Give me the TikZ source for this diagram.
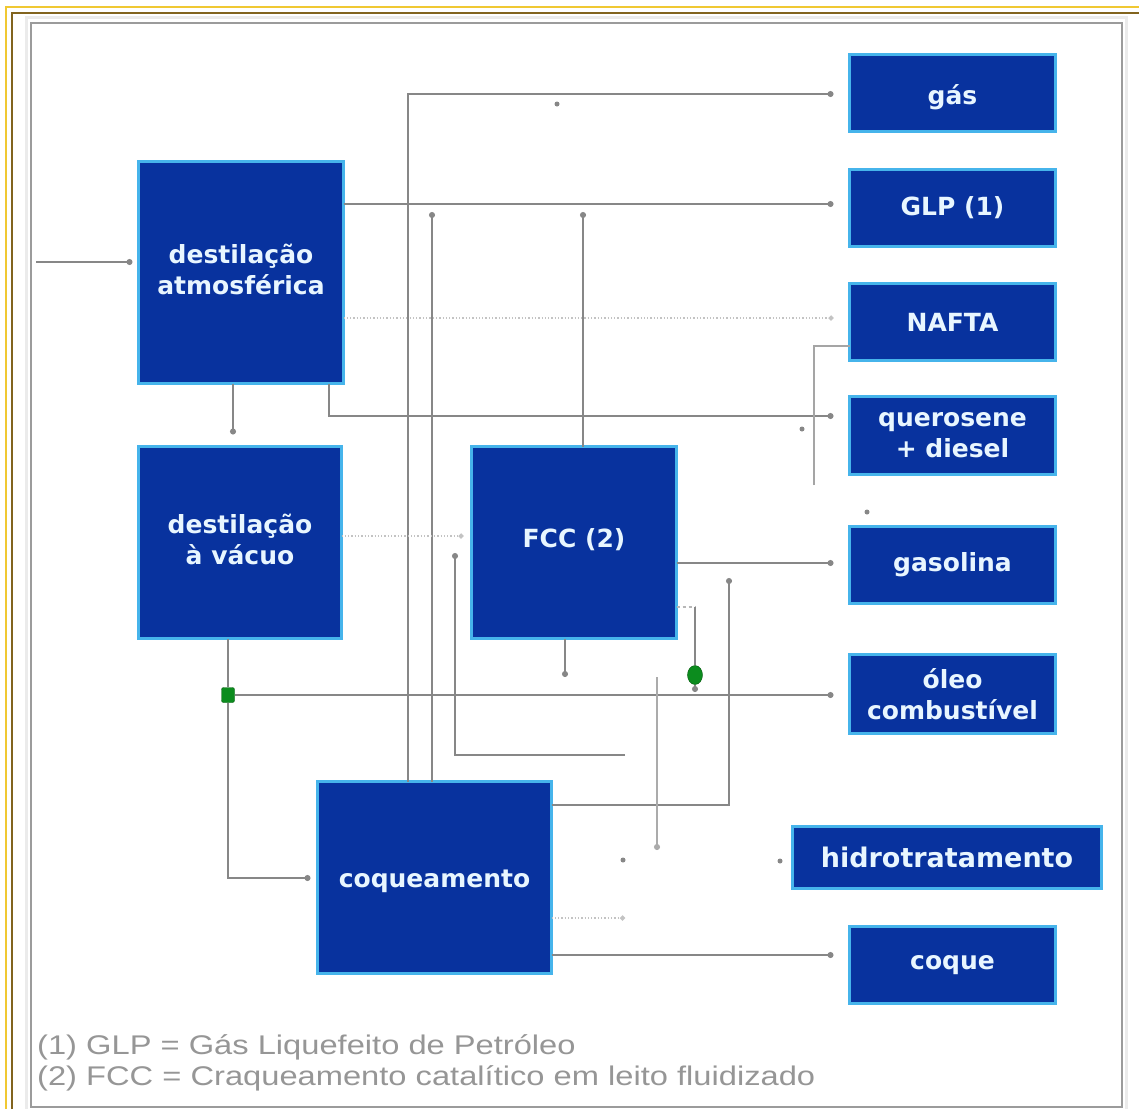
\documentclass[tikz,border=0pt]{standalone}
\usepackage{fontspec}
\setmainfont{DejaVu Sans}
\newfontfamily\notefont[FakeStretch=1.21]{Liberation Sans}
\usetikzlibrary{arrows.meta,shapes.geometric}
\definecolor{boxfill}{RGB}{8,50,158}
\definecolor{boxedge}{RGB}{70,180,235}
\definecolor{boxtext}{RGB}{232,246,255}
\definecolor{linegray}{RGB}{135,135,135}
\definecolor{faintgray}{RGB}{195,195,195}
\definecolor{valvegreen}{RGB}{12,140,30}
\definecolor{valveedge}{RGB}{5,90,15}
\definecolor{goldlight}{RGB}{240,200,50}
\definecolor{golddark}{RGB}{130,100,30}
\definecolor{framegray}{RGB}{155,155,155}
\definecolor{notegray}{RGB}{150,150,150}
\newcommand{\twoline}[3]{\raisebox{#1}{\begin{tabular}{@{}c@{}}#2\\#3\end{tabular}}}
\newcommand{\shiftink}[2]{\raisebox{#1}[\height][\depth]{#2}}
\begin{document}
\begin{tikzpicture}[x=1pt,y=-1pt,
  unitbox/.style={draw=boxedge, line width=3pt, fill=boxfill, text=boxtext,
    font=\fontsize{25}{31}\selectfont\bfseries, align=center, inner sep=0pt, outer sep=0pt},
  prodbox/.style={unitbox, minimum width=206pt, minimum height=77pt},
  feed/.style={draw=linegray, line width=1.3pt, -{Circle[length=6pt]}},
  faint/.style={draw=faintgray, line width=1.3pt, dotted, -{Circle[length=5pt]}},
  plain/.style={draw=linegray, line width=1.3pt},
  speck/.style={circle, fill=linegray, inner sep=0pt, minimum size=5pt},
  valvesq/.style={draw=valveedge, fill=valvegreen, rounded corners=2pt, minimum width=13pt, minimum height=15pt, inner sep=0pt},
  valveov/.style={draw=valveedge, fill=valvegreen, ellipse, minimum width=15pt, minimum height=19pt, inner sep=0pt},
  note/.style={anchor=west, text=notegray, font=\notefont\fontsize{27}{30}\selectfont, inner sep=0pt}]

\useasboundingbox (0,0) rectangle (1139,1109);
\fill[white] (0,0) rectangle (1139,1109);

% frame
\draw[goldlight, line width=2pt] (6,1109) -- (6,6.5) -- (1139,6.5);
\draw[golddark, line width=2pt] (11.5,1109) -- (11.5,12.5) -- (1139,12.5);
\draw[black!8, line width=3pt] (26,1109) -- (26,17) -- (1126,17) -- (1126,1109);
\draw[framegray, line width=2pt] (31,1107) -- (31,23) -- (1122,23) -- (1122,1107) -- cycle;

% process units
\node[unitbox, minimum width=205pt, minimum height=222pt] (atm) at (241,272.5) {\twoline{6pt}{destilação}{atmosférica}};
\node[unitbox, minimum width=203pt, minimum height=192pt] (vac) at (240,542.5) {\twoline{10pt}{destilação}{à vácuo}};
\node[unitbox, minimum width=205pt, minimum height=192pt] (fcc) at (574,542.5) {\shiftink{3pt}{FCC (2)}};
\node[unitbox, minimum width=234pt, minimum height=192pt] (coq) at (434.5,877.5) {\shiftink{-4pt}{coqueamento}};

% products
\node[prodbox] (gas) at (952.5,93) {\shiftink{-4pt}{gás}};
\node[prodbox] (glp) at (952.5,207.5) {GLP (1)};
\node[prodbox] (nafta) at (952.5,322) {NAFTA};
\node[prodbox, minimum height=78pt] (quer) at (952.5,435.5) {querosene\\+ diesel};
\node[prodbox] (gasol) at (952.5,565) {gasolina};
\node[prodbox, minimum height=79pt] (oleo) at (952.5,694) {óleo\\combustível};
\node[unitbox, minimum width=309pt, minimum height=62pt, font=\fontsize{27}{31}\selectfont\bfseries] (hidro) at (947,857.5) {hidrotratamento};
\node[prodbox] (coque) at (952.5,965) {coque};

% valves
\node[valvesq] (v1) at (228,695) {};
\node[valveov] (v2) at (695,675) {};

% helper coordinates
\coordinate (in) at (36,262);
\coordinate (xav) at (233,0);
\coordinate (yglp) at (0,204);
\coordinate (ynaf) at (0,318);
\coordinate (cq1) at (329,416);
\coordinate (cg1) at (408,94);
\coordinate (cg2) at (432,212);
\coordinate (cf1) at (583,212);
\coordinate (yvf) at (0,536);
\coordinate (r1) at (625,755);
\coordinate (r2) at (455,755);
\coordinate (r3) at (455,553);
\coordinate (ygas) at (0,563);
\coordinate (k1) at (729,805);
\coordinate (k2) at (729,578);
\coordinate (yco) at (0,878);
\coordinate (fo) at (565,677);
\coordinate (fv) at (695,607);
\coordinate (fv2) at (695,692);
\coordinate (m1) at (657,677);
\coordinate (m2) at (657,850);
\coordinate (c18) at (625,918);
\coordinate (ycq) at (0,955);
\coordinate (n1) at (814,485);
\coordinate (n2) at (814,346);

% connectors
\draw[feed, shorten >=6pt] (in) -- (atm.west |- in);
\draw[feed, shorten >=12pt] (atm.south -| xav) -- (vac.north -| xav);
\draw[feed, shorten >=16pt] (atm.east |- yglp) -- (glp.west |- yglp);
\draw[faint, shorten >=16pt] (atm.east |- ynaf) -- (nafta.west |- ynaf);
\draw[feed, shorten >=16pt] (atm.south -| cq1) -- (cq1) -- (quer.west |- cq1);
\draw[feed, shorten >=16pt] (coq.north -| cg1) -- (cg1) -- (gas.west |- cg1);
\draw[feed] (coq.north -| cg2) -- (cg2);
\draw[feed] (fcc.north -| cf1) -- (cf1);
\draw[faint, shorten >=8pt] (vac.east |- yvf) -- (fcc.west |- yvf);
\draw[feed] (r1) -- (r2) -- (r3);
\draw[feed, shorten >=16pt] (fcc.east |- ygas) -- (gasol.west |- ygas);
\draw[feed] (coq.east |- k1) -- (k1) -- (k2);
\draw[plain] (vac.south -| v1) -- (v1);
\draw[feed, shorten >=16pt] (v1) -- (oleo.west |- v1);
\draw[feed, shorten >=7pt] (v1) |- (coq.west |- yco);
\draw[feed] (fcc.south -| fo) -- (fo);
\draw[plain, draw=linegray!60, dashed] (fcc.east |- fv) -- (fv);
\draw[plain] (fv) -- (v2);
\draw[feed] (v2) -- (fv2);
\draw[feed, draw=linegray!70] (m1) -- (m2);
\draw[faint] (coq.east |- c18) -- (c18);
\draw[feed, shorten >=16pt] (coq.east |- ycq) -- (coque.west |- ycq);
\draw[plain, draw=linegray!75] (n1) -- (n2) -- (nafta.west |- n2);

% loose dots
\node[speck] (s1) at (557,104) {};
\node[speck] (s2) at (802,429) {};
\node[speck] (s3) at (867,512) {};
\node[speck] (s4) at (623,860) {};
\node[speck] (s5) at (780,861) {};

% footnotes
\node[note] (n1t) at (37,1047) {(1) GLP = Gás Liquefeito de Petróleo};
\node[note] (n2t) at (37,1078) {(2) FCC = Craqueamento catalítico em leito fluidizado};
\end{tikzpicture}
\end{document}
